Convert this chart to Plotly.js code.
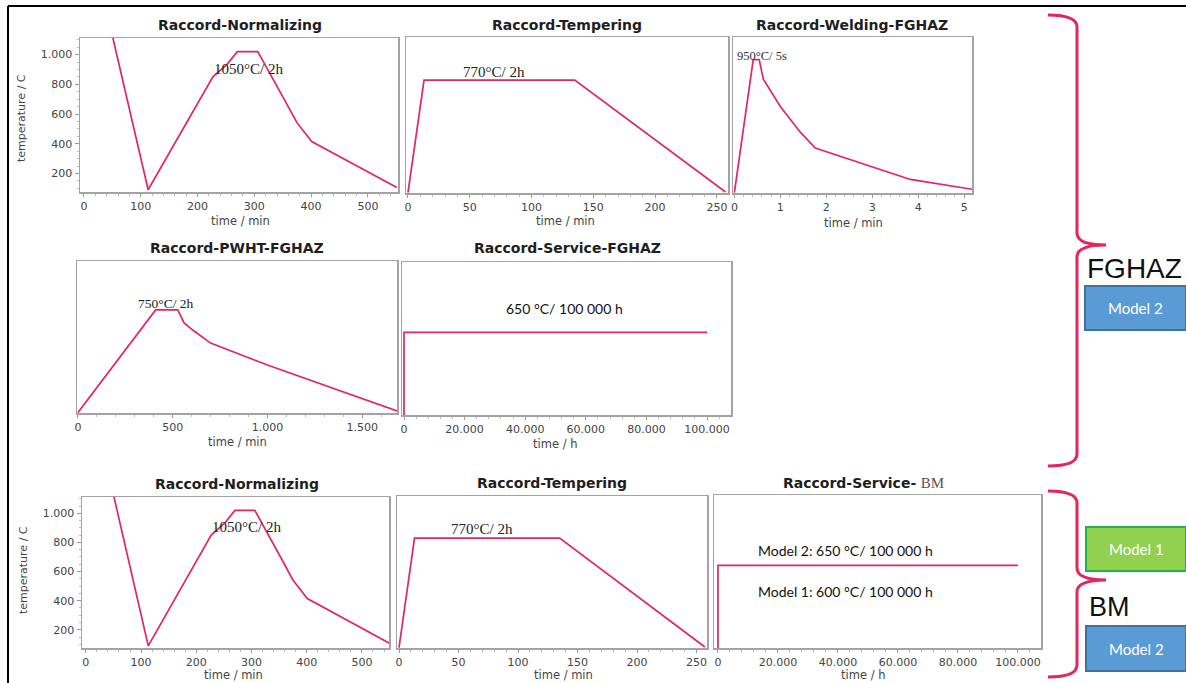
<!DOCTYPE html>
<html>
<head>
<meta charset="utf-8">
<script src="https://cdn.plot.ly/plotly-3.0.1.min.js"></script>
<style>html,body{margin:0;padding:0;background:#fff;}#chart{width:1186px;height:683px;}</style>
</head>
<body>
<div id="chart"></div>
<script>
// ---- data ----
const normTime = [48, 113, 227, 252, 270, 306, 350, 375, 401, 551];
const normTemp = [1160, 90, 850, 935, 1020, 1020, 717, 542, 415, 105];
const tempTime = [0, 13, 135, 257];
const tempTemp = [78, 825, 825, 82];
const weldTime = [0, 0.41, 0.54, 0.63, 1.0, 1.43, 1.76, 2.74, 3.83, 5.17];
const weldTemp = [78, 962, 962, 832, 650, 481, 374, 273, 165, 100];
const pwhtTime = [0, 410, 527, 560, 606, 700, 1000, 1684];
const pwhtTemp = [78, 778, 778, 690, 641, 552, 402, 89];
const servTime = [0, 0, 100000];
const servTemp = [20, 635, 635];
const yTicks = [200, 400, 600, 800, 1000];

const panelTitles = ["Raccord-Normalizing", "Raccord-Tempering", "Raccord-Welding-FGHAZ",
  "Raccord-PWHT-FGHAZ", "Raccord-Service-FGHAZ", "Raccord-Normalizing", "Raccord-Tempering",
  "Raccord-Service- BM"];
const xTitles = ["time / min", "time / min", "time / min", "time / min", "time / h",
  "time / min", "time / min", "time / h"];
const yTitle = "temperature / C";

// ---- layout helpers ----
const W = 1186, H = 683;
const px = x => x / W;
const py = y => 1 - y / H;
const RED = '#e2265e';

const panels = [
  {f:[80,398,38,192],   xr:[-7,553],      dt:100,   x:normTime, y:normTemp, ylab:true,  tt:[240,25],  xt:[240,221]},
  {f:[406,728,37,193],  xr:[-1.6,259],    dt:50,    x:tempTime, y:tempTemp, ylab:false, tt:[567,25],  xt:[565,221]},
  {f:[733,972,37,193],  xr:[-0.03,5.17],  dt:1,     x:weldTime, y:weldTemp, ylab:false, tt:[852,25],  xt:[853,223]},
  {f:[77,397,261,413],  xr:[-5,1684],     dt:500,   x:pwhtTime, y:pwhtTemp, ylab:false, tt:[237,248], xt:[237,442]},
  {f:[402,731,262,415], xr:[-660,107900], dt:20000, x:servTime, y:servTemp, ylab:false, tt:[567,248], xt:[555,444]},
  {f:[82,389,497,648],  xr:[-7,549],      dt:100,   x:normTime, y:normTemp, ylab:true,  tt:[237,484], xt:[233,675]},
  {f:[397,707,496,648], xr:[-1.7,258.8],  dt:50,    x:tempTime, y:tempTemp, ylab:false, tt:[552,483], xt:[563,675]},
  {f:[714,1041,495,648],xr:[-1330,107700],dt:20000, x:servTime, y:servTemp, ylab:false, tt:[863,483], xt:[863,675]}
];

const traces = [];
const layout = {
  width: W, height: H,
  margin: {l:0, r:0, t:0, b:0},
  paper_bgcolor: '#fff', plot_bgcolor: '#fff',
  separators: ',.',
  showlegend: false,
  annotations: [], shapes: []
};

const tickFont = {family: 'DejaVu Sans', size: 11, color: '#444'};

panels.forEach((p, i) => {
  const n = i === 0 ? '' : String(i + 1);
  traces.push({
    x: p.x, y: p.y, type: 'scatter', mode: 'lines',
    xaxis: 'x' + n, yaxis: 'y' + n,
    line: {color: RED, width: 1.7}, hoverinfo: 'skip'
  });
  layout['xaxis' + n] = {
    domain: [px(p.f[0]), px(p.f[1])], anchor: 'y' + n, range: p.xr,
    showgrid: false, zeroline: false, showline: true, mirror: true,
    linecolor: '#a3a3a3', linewidth: 1.5,
    ticks: 'outside', ticklen: 3, tickcolor: '#999', dtick: p.dt, tick0: 0,
    minor: {ticks: 'outside', ticklen: 2, tickcolor: '#bbb', dtick: p.dt / 5, showgrid: false},
    tickformat: ',d', tickfont: tickFont, fixedrange: true
  };
  const yax = {
    domain: [py(p.f[3]), py(p.f[2])], anchor: 'x' + n, range: [75, 1112],
    showgrid: false, zeroline: false, showline: true, mirror: true,
    linecolor: '#a3a3a3', linewidth: 1.5,
    ticks: p.ylab ? 'outside' : '', ticklen: 4, tickcolor: '#999',
    tickvals: yTicks, showticklabels: p.ylab,
    tickformat: ',d', tickfont: tickFont, fixedrange: true
  };
  if (p.ylab) yax.minor = {ticks: 'outside', ticklen: 2, tickcolor: '#bbb', dtick: 50, tick0: 0, showgrid: false};
  layout['yaxis' + n] = yax;
  const titleText = i === 7
    ? '<b>Raccord-Service-</b> <span style="font-family:Liberation Serif;font-weight:normal;font-size:15px;color:#555">BM</span>'
    : '<b>' + panelTitles[i] + '</b>';
  layout.annotations.push({
    xref: 'paper', yref: 'paper', x: px(p.tt[0]), y: py(p.tt[1]),
    text: titleText, showarrow: false, xanchor: 'center', yanchor: 'middle',
    font: {family: 'DejaVu Sans', size: 14, color: '#1e1e1e'}
  });
  layout.annotations.push({
    xref: 'paper', yref: 'paper', x: px(p.xt[0]), y: py(p.xt[1]),
    text: xTitles[i], showarrow: false, xanchor: 'center', yanchor: 'middle',
    font: {family: 'DejaVu Sans', size: 11.5, color: '#444'}
  });
});

// y axis titles
[[22, 118], [23, 570]].forEach(c => {
  layout.annotations.push({
    xref: 'paper', yref: 'paper', x: px(c[0]), y: py(c[1]),
    text: yTitle, showarrow: false, textangle: -90, xanchor: 'center', yanchor: 'middle',
    font: {family: 'DejaVu Sans', size: 11, color: '#444'}
  });
});

// in-plot labels
const serif = {family: 'Liberation Serif', size: 15, color: '#222'};
const labels = [
  ['1050°C/ 2h', 248, 69, serif],
  ['770°C/ 2h', 494, 72, serif],
  ['950°C/ 5s', 762, 56, {family: 'Liberation Serif', size: 12.5, color: '#333'}],
  ['750°C/ 2h', 166, 303, {family: 'Liberation Serif', size: 13.5, color: '#222'}],
  ['650 °C/ 100 000 h', 564, 308, {family: 'Lato', size: 14, color: '#111'}],
  ['1050°C/ 2h', 246, 527, serif],
  ['770°C/ 2h', 482, 529, serif],
  ['Model 2: 650 °C/ 100 000 h', 845, 550, {family: 'Lato', size: 14, color: '#111'}],
  ['Model 1: 600 °C/ 100 000 h', 845, 591, {family: 'Lato', size: 14, color: '#111'}]
];
labels.forEach(l => {
  layout.annotations.push({
    xref: 'paper', yref: 'paper', x: px(l[1]), y: py(l[2]), text: l[0],
    showarrow: false, xanchor: 'center', yanchor: 'middle', font: l[3]
  });
});

// outer black border (top and left)
layout.shapes.push({type: 'line', xref: 'paper', yref: 'paper',
  x0: px(8), x1: px(1186), y0: py(6), y1: py(6), line: {color: '#000', width: 2}});
layout.shapes.push({type: 'line', xref: 'paper', yref: 'paper',
  x0: px(8), x1: px(8), y0: py(6), y1: py(683), line: {color: '#000', width: 2}});

// braces
function P(x, y) { return px(x).toFixed(5) + ',' + py(y).toFixed(5); }
function brace(top, mid, bot) {
  const xl = 1048, xv = 1077, xt = 1106;
  return 'M' + P(xl, top) + ' Q' + P(xv, top) + ' ' + P(xv, top + 12) +
    ' L' + P(xv, mid - 12) + ' Q' + P(xv, mid) + ' ' + P(xt, mid) +
    ' Q' + P(xv, mid) + ' ' + P(xv, mid + 12) +
    ' L' + P(xv, bot - 12) + ' Q' + P(xv, bot) + ' ' + P(xl, bot);
}
layout.shapes.push({type: 'path', xref: 'paper', yref: 'paper',
  path: brace(15, 245, 466), line: {color: RED, width: 3}});
layout.shapes.push({type: 'path', xref: 'paper', yref: 'paper',
  path: brace(491, 580, 677), line: {color: RED, width: 3}});

// model boxes
const boxes = [
  [1085, 1186, 286, 330, '#5b9bd5', '#41719c', 'Model 2'],
  [1086, 1186, 527, 571, '#92d050', '#22b14c', 'Model 1'],
  [1086, 1186, 626, 671, '#5b9bd5', '#41719c', 'Model 2']
];
boxes.forEach(b => {
  layout.shapes.push({type: 'rect', xref: 'paper', yref: 'paper',
    x0: px(b[0]), x1: px(b[1]), y0: py(b[3]), y1: py(b[2]),
    fillcolor: b[4], line: {color: b[5], width: 2}});
  layout.annotations.push({xref: 'paper', yref: 'paper',
    x: px((b[0] + b[1]) / 2), y: py((b[2] + b[3]) / 2), text: b[6], showarrow: false,
    xanchor: 'center', yanchor: 'middle', font: {family: 'Lato', size: 15, color: '#fff'}});
});
layout.annotations.push({xref: 'paper', yref: 'paper', x: px(1134), y: py(268),
  text: 'FGHAZ', showarrow: false, xanchor: 'center', yanchor: 'middle',
  font: {family: 'Liberation Sans', size: 28, color: '#111'}});
layout.annotations.push({xref: 'paper', yref: 'paper', x: px(1087), y: py(607),
  text: 'BM', showarrow: false, xanchor: 'left', yanchor: 'middle',
  font: {family: 'Liberation Sans', size: 27, color: '#111'}});

Plotly.newPlot('chart', traces, layout, {staticPlot: true, displayModeBar: false});
</script>
</body>
</html>
